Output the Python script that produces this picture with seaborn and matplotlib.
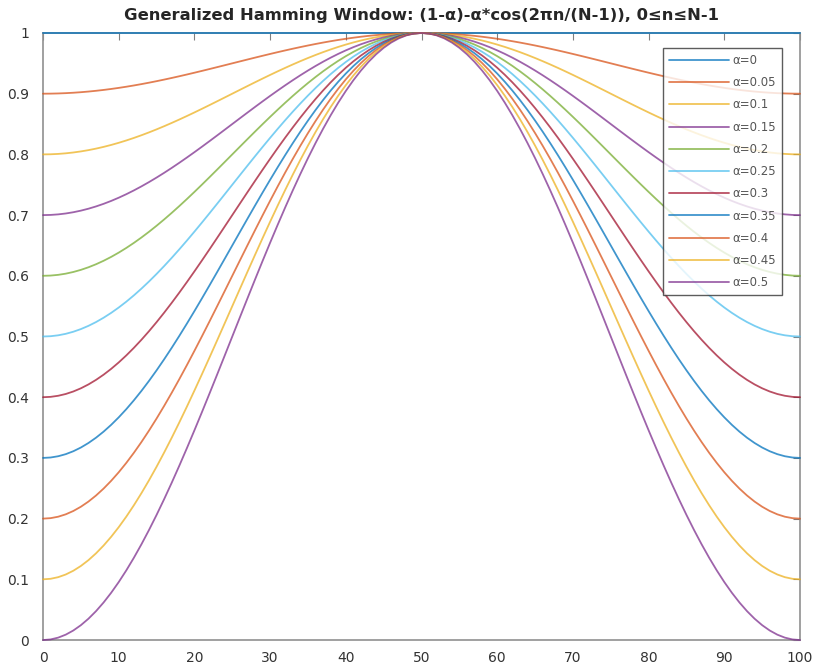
import numpy as np
import pandas as pd
import matplotlib
matplotlib.use("Agg")
import matplotlib.pyplot as plt
import seaborn as sns

alphas = [0, 0.05, 0.1, 0.15, 0.2, 0.25, 0.3, 0.35, 0.4, 0.45, 0.5]
N = 101
n = np.arange(N)
colors = ["#0072BD", "#D95319", "#EDB120", "#7E2F8E", "#77AC30", "#4DBEEE", "#A2142F",
          "#0072BD", "#D95319", "#EDB120", "#7E2F8E"]

rows = []
for a in alphas:
    w = (1 - a) - a * np.cos(2 * np.pi * n / (N - 1))
    for xi, yi in zip(n, w):
        rows.append({"n": xi, "w": yi, "label": f"α={a:g}"})
df = pd.DataFrame(rows)

sns.set_style("white")
plt.rcParams["font.family"] = ["DejaVu Sans"]
fig = plt.figure(figsize=(8.15, 6.69), dpi=100)
ax = fig.add_axes([0.0528, 0.0433, 0.9288, 0.9074])
sns.lineplot(data=df, x="n", y="w", hue="label", palette=colors, ax=ax,
             linewidth=1.3, alpha=0.75)
for ln in ax.get_lines():
    ln.set_clip_on(False)
    ln.set_zorder(5)
ax.set_xlim(0, 100)
ax.set_ylim(0, 1)
ax.set_xticks(np.arange(0, 101, 10))
ax.set_yticks(np.round(np.arange(0, 1.01, 0.1), 1))
ax.set_yticklabels(["0", "0.1", "0.2", "0.3", "0.4", "0.5", "0.6", "0.7", "0.8", "0.9", "1"])
ax.set_xlabel("")
ax.set_ylabel("")
ax.tick_params(direction="in", length=5, color="#808080", labelcolor="#333333",
               labelsize=10, top=True, right=True)
ax.tick_params(axis="y", pad=10)
ax.tick_params(axis="x", pad=8)
for s in ax.spines.values():
    s.set_color("#909090")
    s.set_linewidth(1.2)
ax.set_title("Generalized Hamming Window: (1-α)-α*cos(2πn/(N-1)), 0≤n≤N-1",
             fontsize=11.8, fontweight="bold", pad=9)
leg = ax.legend(loc="upper right", bbox_to_anchor=(0.976, 0.975), borderaxespad=0,
                fontsize=8.5, frameon=True, fancybox=False, edgecolor="#333333",
                handlelength=5.1, labelspacing=0.78, borderpad=0.5, handletextpad=0.3)
leg.get_frame().set_linewidth(1.0)
leg.set_zorder(10)
for t in leg.get_texts():
    t.set_color("#555555")
fig.savefig("out.png", dpi=100)
